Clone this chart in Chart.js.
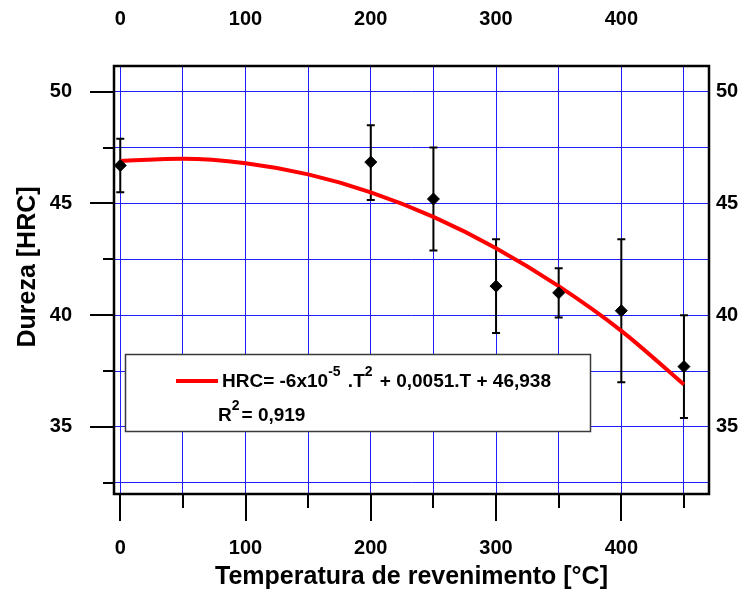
<!DOCTYPE html>
<html>
<head>
<meta charset="utf-8">
<script src="https://cdn.jsdelivr.net/npm/chart.js@4"></script>
<style>
  html, body { margin: 0; padding: 0; background: #ffffff; }
  #wrap { width: 740px; height: 592px; }
</style>
</head>
<body>
<div id="wrap"><canvas id="c" width="740" height="592"></canvas></div>
<script>
// ---- data ----
const temperatures = [0, 200, 250, 300, 350, 400, 450];
const hardness     = [46.7, 46.85, 45.2, 41.3, 41.0, 40.2, 37.7];
const errLow       = [45.5, 45.15, 42.9, 39.2, 39.9, 37.0, 35.4];
const errHigh      = [47.9, 48.5, 47.5, 43.4, 42.1, 43.4, 40.0];
const fitTemps     = [0, 50, 100, 150, 200, 250, 300, 350, 400, 450];
const fitHardness  = [46.9, 47.0, 46.8, 46.3, 45.5, 44.4, 43.0, 41.3, 39.3, 36.9];
const xTickLabels  = [0, 100, 200, 300, 400];
const yTickLabels  = [35, 40, 45, 50];
const xTitle = 'Temperatura de revenimento [°C]';
const yTitle = 'Dureza [HRC]';
const eqMain = ['HRC= -6x10', '-5', ' .T', '2', ' + 0,0051.T + 46,938'];
const eqR2   = ['R', '2', '= 0,919'];

const FONT = "'Liberation Sans', Arial, sans-serif";
const GRID = 'rgb(30,30,255)';

const pointsData = temperatures.map((t, i) => ({x: t, y: hardness[i]}));
const fitData = fitTemps.map((t, i) => ({x: t, y: fitHardness[i]}));

function xLabel(v) { return xTickLabels.includes(v) ? String(v) : ''; }
function yLabel(v) { return yTickLabels.includes(v) ? String(v) : ''; }

const decor = {
  id: 'decor',
  beforeDatasetsDraw(chart) {
    const ctx = chart.ctx;
    const ca = chart.chartArea;
    // legend box
    const bx = ca.left + 11, by = 354, bw = 465, bh = 77;
    ctx.save();
    ctx.fillStyle = '#ffffff';
    ctx.fillRect(bx, by, bw, bh);
    ctx.strokeStyle = '#3a3a3a';
    ctx.lineWidth = 1.5;
    ctx.strokeRect(bx + 0.5, by + 0.5, bw, bh);
    // red sample line
    ctx.strokeStyle = '#ff0000';
    ctx.lineWidth = 4;
    ctx.beginPath();
    ctx.moveTo(bx + 51, by + 27);
    ctx.lineTo(bx + 93, by + 27);
    ctx.stroke();
    // equation text with superscripts
    ctx.fillStyle = '#000';
    ctx.textBaseline = 'alphabetic';
    ctx.textAlign = 'left';
    function drawParts(parts, x, y) {
      parts.forEach((p, i) => {
        const sup = i % 2 === 1;
        ctx.font = 'bold ' + (sup ? 14 : 19) + 'px ' + FONT;
        ctx.fillText(p, x, sup ? y - 11 : y);
        x += ctx.measureText(p).width + (sup ? 2 : 0);
      });
    }
    drawParts(eqMain, bx + 97, by + 33);
    drawParts(eqR2, bx + 93, by + 67);

    // error bars
    const xs = chart.scales.x, ys = chart.scales.y;
    ctx.strokeStyle = '#000';
    ctx.lineWidth = 2;
    temperatures.forEach((t, i) => {
      const px = xs.getPixelForValue(t);
      const pl = ys.getPixelForValue(errLow[i]);
      const ph = ys.getPixelForValue(errHigh[i]);
      ctx.beginPath();
      ctx.moveTo(px, pl); ctx.lineTo(px, ph);
      ctx.moveTo(px - 4, pl); ctx.lineTo(px + 4, pl);
      ctx.moveTo(px - 4, ph); ctx.lineTo(px + 4, ph);
      ctx.stroke();
    });
    ctx.restore();
  },
  afterDraw(chart) {
    const ctx = chart.ctx;
    const ca = chart.chartArea;
    const xs = chart.scales.x, ys = chart.scales.y;
    ctx.save();
    ctx.strokeStyle = '#000';
    // tick marks: left axis
    ctx.lineWidth = 2;
    ys.ticks.forEach(tk => {
      const py = Math.round(ys.getPixelForValue(tk.value));
      const len = yTickLabels.includes(tk.value) ? 24 : 11;
      ctx.beginPath();
      ctx.moveTo(ca.left - len, py); ctx.lineTo(ca.left, py);
      ctx.stroke();
    });
    // tick marks: bottom axis
    xs.ticks.forEach(tk => {
      const px = Math.round(xs.getPixelForValue(tk.value));
      const len = xTickLabels.includes(tk.value) ? 27 : 14;
      ctx.beginPath();
      ctx.moveTo(px, ca.bottom); ctx.lineTo(px, ca.bottom + len);
      ctx.stroke();
    });
    // frame
    ctx.lineWidth = 2.5;
    ctx.strokeRect(ca.left, ca.top, ca.right - ca.left, ca.bottom - ca.top);
    // y title
    ctx.fillStyle = '#000';
    ctx.font = 'bold 25px ' + FONT;
    ctx.textAlign = 'center';
    ctx.textBaseline = 'middle';
    ctx.translate(28, 267);
    ctx.rotate(-Math.PI / 2);
    ctx.fillText(yTitle, 0, 0);
    ctx.restore();
  }
};

const tickFont = {family: FONT, size: 20, weight: 'bold'};

new Chart(document.getElementById('c'), {
  type: 'scatter',
  data: {
    datasets: [
      {
        label: 'Dureza',
        data: pointsData,
        pointStyle: 'rectRot',
        pointRadius: 6,
        pointHoverRadius: 6,
        backgroundColor: '#000',
        borderColor: '#000',
        borderWidth: 1,
        showLine: false
      },
      {
        label: 'Ajuste',
        data: fitData,
        showLine: true,
        borderColor: '#ff0000',
        borderWidth: 4,
        pointRadius: 0,
        tension: 0.4,
        cubicInterpolationMode: 'monotone',
        fill: false
      }
    ]
  },
  options: {
    responsive: false,
    animation: false,
    events: [],
    layout: {padding: 0},
    plugins: {legend: {display: false}, tooltip: {enabled: false}},
    scales: {
      x: {
        type: 'linear', position: 'bottom', min: -5, max: 470,
        afterFit: s => { s.height = 98; },
        grid: {color: GRID, lineWidth: 1, drawTicks: false},
        border: {display: false},
        ticks: {stepSize: 50, includeBounds: false, autoSkip: false, maxRotation: 0,
                padding: 42, color: '#000', font: tickFont, callback: xLabel},
        title: {display: true, text: xTitle, color: '#000',
                font: {family: FONT, size: 25, weight: 'bold'}, padding: {top: 0, bottom: 0}}
      },
      x2: {
        type: 'linear', position: 'top', min: -5, max: 470,
        afterFit: s => { s.height = 66; },
        grid: {display: false, drawTicks: false},
        border: {display: false},
        ticks: {stepSize: 50, includeBounds: false, autoSkip: false, maxRotation: 0,
                padding: 35, color: '#000', font: tickFont, callback: xLabel}
      },
      y: {
        type: 'linear', position: 'left', min: 32, max: 51.15,
        afterFit: s => { s.width = 114; },
        grid: {color: GRID, lineWidth: 1, drawTicks: false},
        border: {display: false},
        ticks: {stepSize: 2.5, includeBounds: false, autoSkip: false,
                padding: 42, color: '#000', font: tickFont, callback: yLabel}
      },
      y2: {
        type: 'linear', position: 'right', min: 32, max: 51.15,
        afterFit: s => { s.width = 31; },
        grid: {display: false, drawTicks: false},
        border: {display: false},
        ticks: {stepSize: 2.5, includeBounds: false, autoSkip: false,
                padding: 7, color: '#000', font: tickFont, callback: yLabel}
      }
    }
  },
  plugins: [decor]
});
</script>
</body>
</html>
